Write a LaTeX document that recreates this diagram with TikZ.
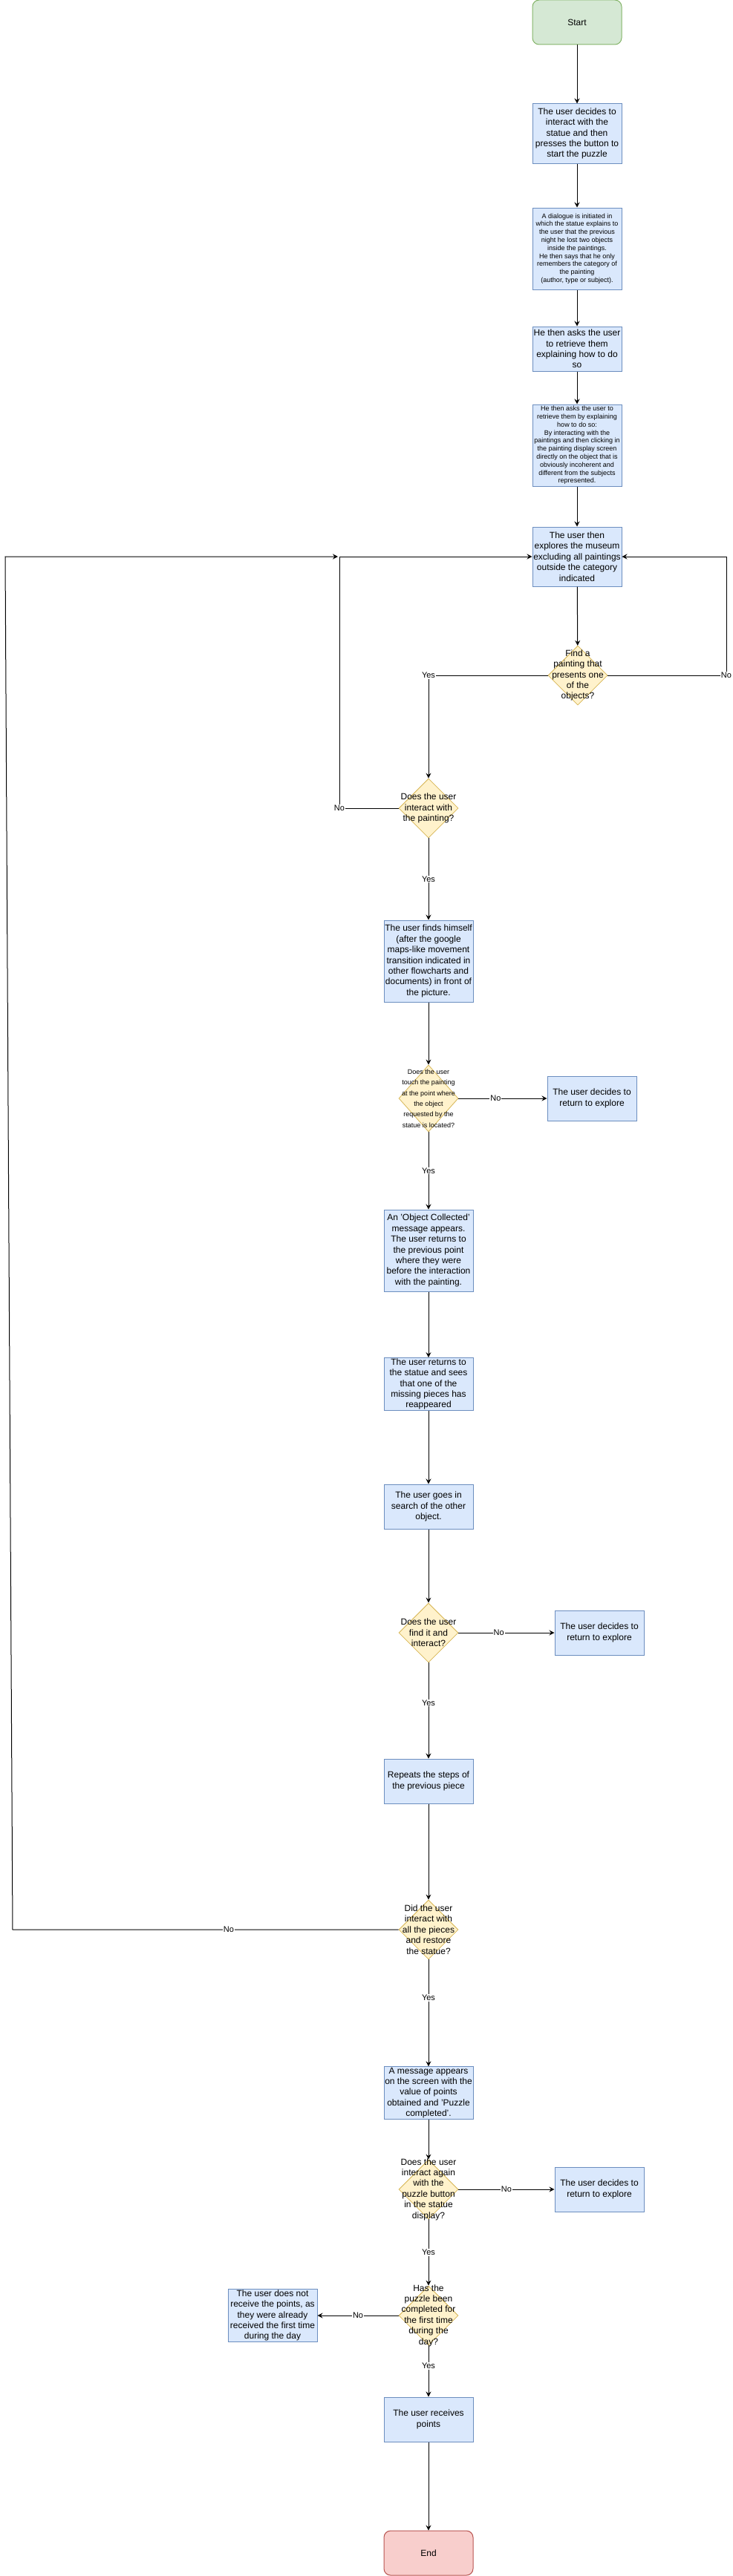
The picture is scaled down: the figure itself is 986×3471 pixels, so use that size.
\documentclass[tikz,border=0pt]{standalone}
\usepackage{fontspec}
\setmainfont{Liberation Sans}
\usetikzlibrary{shapes.geometric,arrows.meta,positioning}
\definecolor{procfill}{HTML}{DAE8FC}
\definecolor{procdraw}{HTML}{6C8EBF}
\definecolor{decfill}{HTML}{FFF2CC}
\definecolor{decdraw}{HTML}{D6B656}
\definecolor{startfill}{HTML}{D5E8D4}
\definecolor{startdraw}{HTML}{82B366}
\definecolor{endfill}{HTML}{F8CECC}
\definecolor{enddraw}{HTML}{B85450}
\tikzset{
	process/.style = {draw=procdraw, fill=procfill, rectangle, line width=1pt, minimum width=120pt, minimum height=60pt, inner xsep=0pt, inner ysep=1pt, align=center, font=\fontsize{12}{14.4}\selectfont},
	smallprocess/.style = {process, minimum height=110pt, font=\fontsize{9}{10.8}\selectfont},
	startbox/.style = {process, draw=startdraw, fill=startfill, rounded corners=9pt},
	endbox/.style = {process, draw=enddraw, fill=endfill, rounded corners=9pt},
	decision/.style = {diamond, draw=decdraw, fill=decfill, line width=0.8pt, minimum width=80pt, minimum height=80pt, inner sep=0pt},
	question/.style = {align=center, inner sep=0pt, font=\fontsize{12}{14.4}\selectfont},
	smallquestion/.style = {question, font=\fontsize{9}{14.4}\selectfont},
	flow/.style = {draw=black, line width=1pt, -{Stealth[length=7pt,width=7pt,inset=2.5pt]}},
	answer/.style = {fill=white, inner sep=1pt, font=\fontsize{11}{13}\selectfont}
}

\begin{document}
\begin{tikzpicture}[x=1pt,y=-1pt]
	\useasboundingbox (0,0) rectangle (986,3471);
	\node[startbox] (start) at (777,30) {Start};
	\node[process, minimum height=80pt] (decide) at (777,180) {The user decides to\\interact with the\\statue and then\\presses the button to\\start the puzzle};
	\node[smallprocess] (dialogue) at (777,335) {A dialogue is initiated in\\which the statue explains to\\the user that the previous\\night he lost two objects\\inside the paintings.\\He then says that he only\\remembers the category of\\the painting\\(author, type or subject).};
	\node[process] (asks) at (777,470) {He then asks the user\\to retrieve them\\explaining how to do\\so};
	\node[smallprocess] (howto) at (777,600) {He then asks the user to\\retrieve them by explaining\\how to do so:\\By interacting with the\\paintings and then clicking in\\the painting display screen\\directly on the object that is\\obviously incoherent and\\different from the subjects\\represented.};
	\node[process, minimum height=80pt] (explore) at (777,750) {The user then\\explores the museum\\excluding all paintings\\outside the category\\indicated};
	\node[decision, label={[question]center:{Find a\\painting that\\presents one\\of the\\objects?}}] (find) at (778,910) {};
	\node[decision, label={[question]center:{Does the user\\interact with\\the painting?}}] (interact) at (577,1089) {};
	\node[process, minimum height=110pt] (infront) at (577,1295) {The user finds himself\\(after the google\\maps-like movement\\transition indicated in\\other flowcharts and\\documents) in front of\\the picture.};
	\node[decision, minimum height=90pt, label={[smallquestion]center:{Does the user\\touch the painting\\at the point where\\the object\\requested by the\\statue is located?}}] (touch) at (577,1480) {};
	\node[process] (back1) at (797,1480) {The user decides to\\return to explore};
	\node[process, minimum height=110pt] (collected) at (577,1685) {An 'Object Collected'\\message appears.\\The user returns to\\the previous point\\where they were\\before the interaction\\with the painting.};
	\node[process, minimum height=70pt] (statue) at (577,1865) {The user returns to\\the statue and sees\\that one of the\\missing pieces has\\reappeared};
	\node[process] (search) at (577,2030) {The user goes in\\search of the other\\object.};
	\node[decision, label={[question]center:{Does the user\\find it and\\interact?}}] (findit) at (577,2200) {};
	\node[process] (back2) at (807,2200) {The user decides to\\return to explore};
	\node[process] (repeat) at (577,2400) {Repeats the steps of\\the previous piece};
	\node[decision, label={[question]center:{Did the user\\interact with\\all the pieces\\and restore\\the statue?}}] (restore) at (577,2600) {};
	\node[process] (message) at (577,2820) {A message appears\\on the screen with the\\value of points\\obtained and 'Puzzle\\completed'.};
	\node[decision, label={[question]center:{Does the user\\interact again\\with the\\puzzle button\\in the statue\\display?}}] (again) at (577,2950) {};
	\node[process] (back3) at (807,2950) {The user decides to\\return to explore};
	\node[decision, label={[question]center:{Has the\\puzzle been\\completed for\\the first time\\during the\\day?}}] (firsttime) at (577,3120) {};
	\node[process] (nopoints) at (367,3120) {The user does not\\receive the points, as\\they were already\\received the first time\\during the day};
	\node[process] (points) at (577,3260) {The user receives\\points};
	\node[endbox] (end) at (577,3440) {End};

	\coordinate (rightloop) at (978,750);
	\coordinate (leftloop) at (457,750);
	\coordinate (farbottom) at (17,2600);
	\coordinate (fartop) at (7,750);
	\coordinate (farend) at (455,750);

	\draw[flow] (start) -- (decide);
	\draw[flow] (decide) -- (dialogue);
	\draw[flow] (dialogue) -- (asks);
	\draw[flow] (asks) -- (howto);
	\draw[flow] (howto) -- (explore);
	\draw[flow] (explore) -- (find);
	\draw[flow] (find.west) -| node[answer, pos=0.5]{Yes} (interact.north);
	\draw[flow] (find.east) -| node[answer, pos=0.5]{No} (rightloop) -- (explore.east);
	\draw[flow] (interact.west) -| node[answer, pos=0.5]{No} (leftloop) -- (explore.west);
	\draw[flow] (interact) -- node[answer]{Yes} (infront);
	\draw[flow] (infront) -- (touch);
	\draw[flow] (touch) -- node[answer, pos=0.42]{No} (back1);
	\draw[flow] (touch) -- node[answer]{Yes} (collected);
	\draw[flow] (collected) -- (statue);
	\draw[flow] (statue) -- (search);
	\draw[flow] (search) -- (findit);
	\draw[flow] (findit) -- node[answer, pos=0.42]{No} (back2);
	\draw[flow] (findit) -- node[answer, pos=0.42]{Yes} (repeat);
	\draw[flow] (repeat) -- (restore);
	\draw[flow] (restore.west) -- node[answer, pos=0.44]{No} (farbottom) -- (fartop) -- (farend);
	\draw[flow] (restore) -- node[answer, pos=0.36]{Yes} (message);
	\draw[flow] (message) -- (again);
	\draw[flow] (again) -- node[answer]{No} (back3);
	\draw[flow] (again) -- node[answer]{Yes} (firsttime);
	\draw[flow] (firsttime) -- node[answer]{No} (nopoints);
	\draw[flow] (firsttime) -- node[answer, pos=0.4]{Yes} (points);
	\draw[flow] (points) -- (end);
\end{tikzpicture}
\end{document}
